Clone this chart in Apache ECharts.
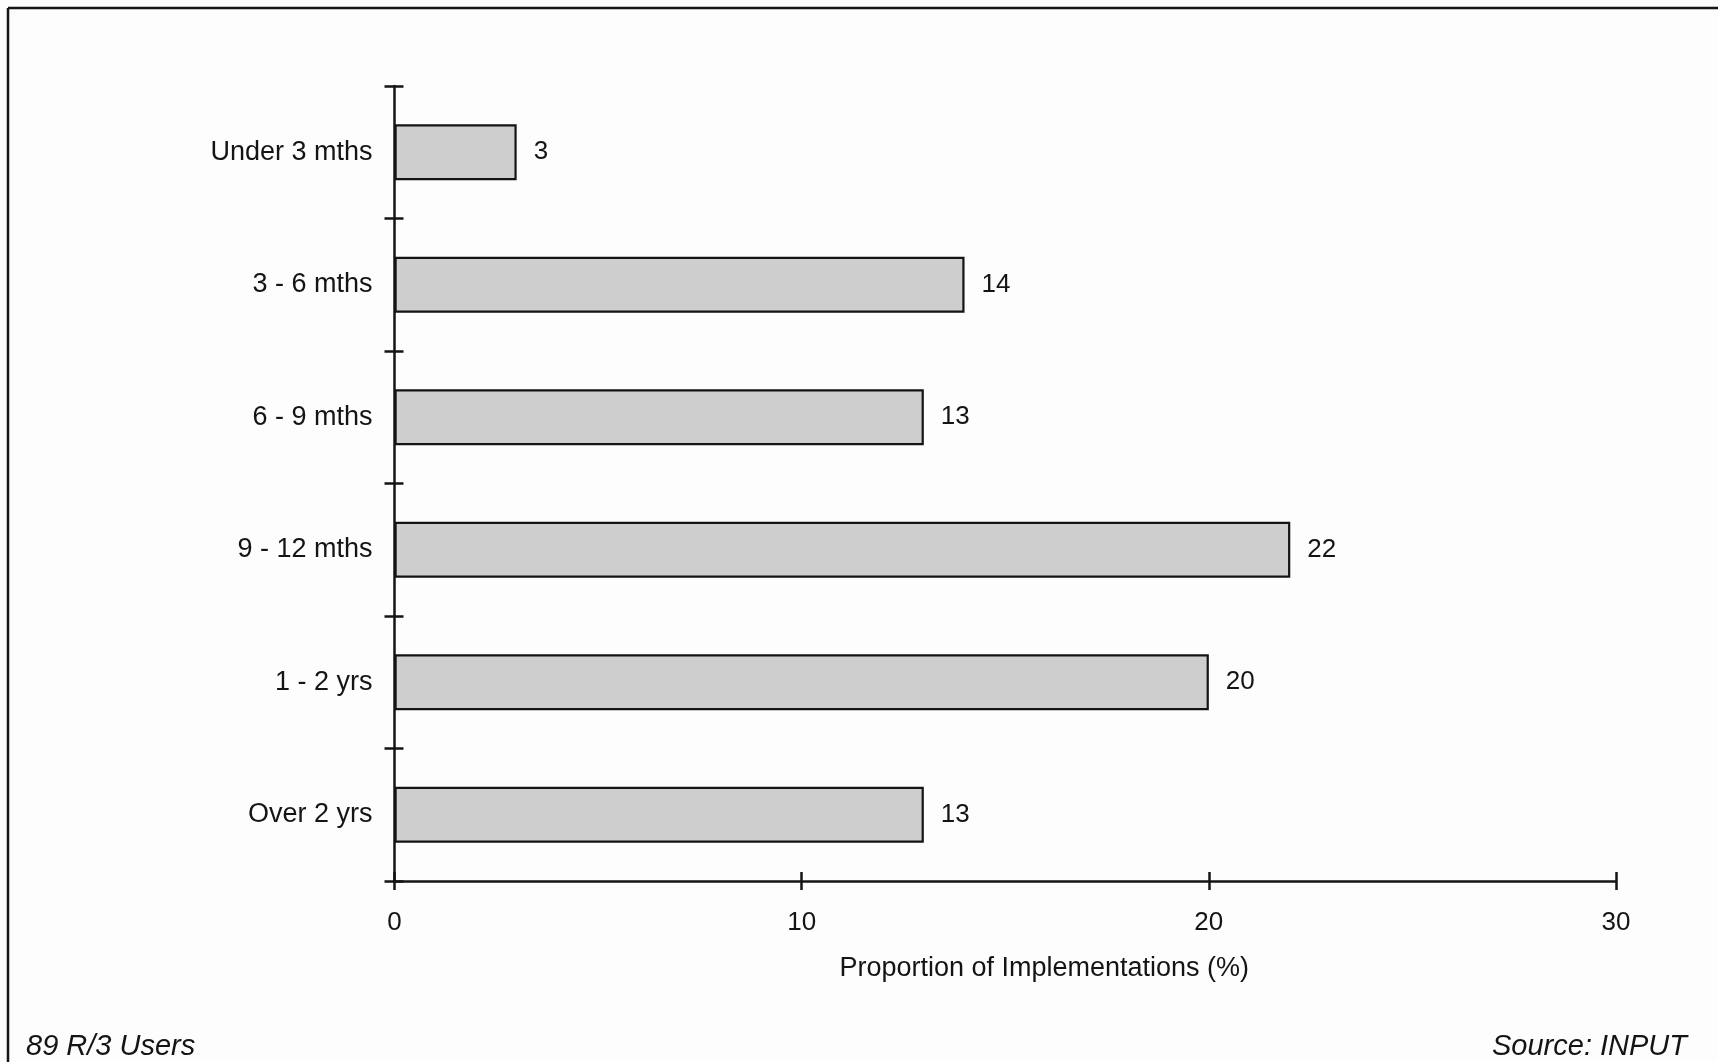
<!DOCTYPE html>
<html>
<head>
<meta charset="utf-8">
<script src="https://cdn.jsdelivr.net/npm/echarts@6/dist/echarts.min.js"></script>
<style>
html,body{margin:0;padding:0;background:#fff;}
#chart{width:1718px;height:1062px;}
</style>
</head>
<body>
<div id="chart"></div>
<script>
const categories = ['Under 3 mths', '3 - 6 mths', '6 - 9 mths', '9 - 12 mths', '1 - 2 yrs', 'Over 2 yrs'];
const values = [3, 14, 13, 22, 20, 13];
const xTicks = [0, 10, 20, 30];
const axisTitle = 'Proportion of Implementations (%)';
const footLeft = '89 R/3 Users';
const footRight = 'Source: INPUT';

const FONT = '"Liberation Sans", Arial, Helvetica, sans-serif';
const INK = '#141414';

const chart = echarts.init(document.getElementById('chart'));
const lineStyle = {color: INK, width: 2.5};

chart.setOption({
  backgroundColor: '#fdfdfd',
  animation: false,
  grid: {left: 394.5, right: 102, top: 86, bottom: 181, containLabel: false},
  title: [
    {text: footLeft, left: 21, top: 1027, textStyle: {fontFamily: FONT, fontSize: 29, fontStyle: 'italic', fontWeight: 'normal', color: INK}},
    {text: footRight, right: 26, top: 1027, textStyle: {fontFamily: FONT, fontSize: 29, fontStyle: 'italic', fontWeight: 'normal', color: INK}}
  ],
  xAxis: [
    {
      type: 'value', min: xTicks[0], max: xTicks[xTicks.length - 1], interval: 10,
      axisLine: {show: true, lineStyle: lineStyle},
      axisTick: {show: true, length: 9, inside: false, lineStyle: lineStyle},
      splitLine: {show: false},
      axisLabel: {margin: 29, fontFamily: FONT, fontSize: 26, color: INK},
      name: axisTitle, nameLocation: 'middle', nameGap: 74,
      nameTextStyle: {fontFamily: FONT, fontSize: 27, color: INK, padding: [0, 0, 0, 78]}
    },
    {
      type: 'value', min: xTicks[0], max: xTicks[xTicks.length - 1], interval: 10,
      position: 'bottom', offset: 0,
      axisLine: {show: false},
      axisTick: {show: true, length: 9, inside: true, lineStyle: lineStyle},
      splitLine: {show: false},
      axisLabel: {show: false}
    }
  ],
  yAxis: [
    {
      type: 'category', data: categories, inverse: true,
      axisLine: {show: true, lineStyle: lineStyle, onZero: false},
      axisTick: {show: true, length: 10, inside: false, lineStyle: lineStyle, alignWithLabel: false},
      axisLabel: {margin: 22, fontFamily: FONT, fontSize: 27, color: INK},
      splitLine: {show: false}
    },
    {
      type: 'category', data: categories, inverse: true,
      position: 'left', offset: 0,
      axisLine: {show: false},
      axisTick: {show: true, length: 9, inside: true, lineStyle: lineStyle},
      axisLabel: {show: false},
      splitLine: {show: false}
    }
  ],
  series: [{
    type: 'bar',
    xAxisIndex: 0,
    yAxisIndex: 0,
    data: values,
    barWidth: 56,
    itemStyle: {color: '#cecece', borderColor: INK, borderWidth: 2.2},
    label: {show: true, position: 'right', distance: 17, fontFamily: FONT, fontSize: 26, color: INK}
  }],
  graphic: [
    {type: 'line', shape: {x1: 8, y1: 8, x2: 1718, y2: 8}, style: {stroke: INK, lineWidth: 2.5}},
    {type: 'line', shape: {x1: 8, y1: 8, x2: 8, y2: 1062}, style: {stroke: INK, lineWidth: 2.5}}
  ]
});
</script>
</body>
</html>
